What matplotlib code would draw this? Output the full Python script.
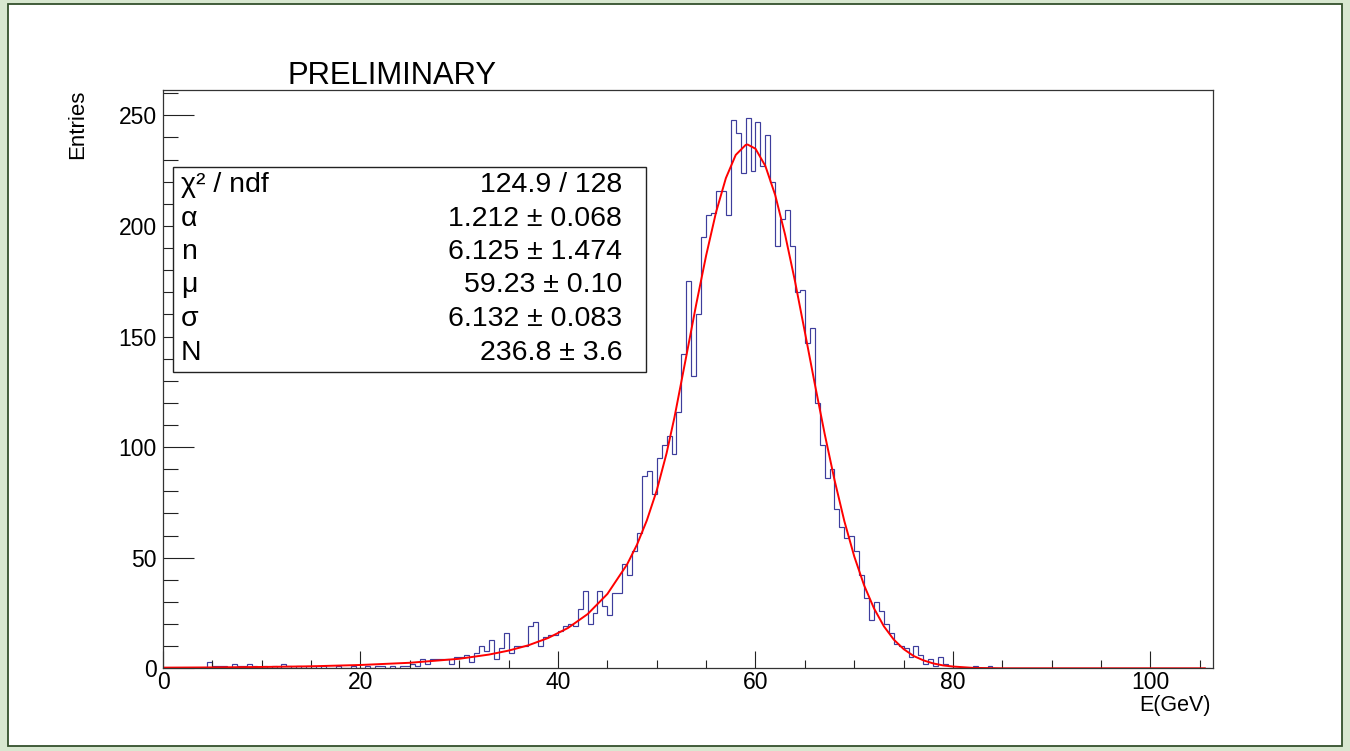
import matplotlib
matplotlib.use('Agg')
import matplotlib.pyplot as plt
import numpy as np
from matplotlib.patches import Rectangle
from matplotlib.ticker import MultipleLocator

plt.rcParams['font.family'] = ['Liberation Sans', 'DejaVu Sans']

# ---------------- data ----------------
bin_width = 0.5
hist_lo, hist_hi = 0.0, 106.0
first_filled_bin = 4.5          # lower edge of first listed bin
counts = [3, 1, 1, 1, 0, 2, 1, 1, 2, 1,
          0, 1, 0, 1, 0, 2, 1, 0, 1, 0,
          1, 1, 0, 1, 0, 0, 1, 0, 0, 1,
          0, 0, 1, 0, 1, 1, 0, 1, 0, 1,
          1, 2, 1, 4, 2, 4, 4, 4, 4, 2,
          5, 5, 6, 3, 7, 10, 8, 13, 4, 9,
          16, 7, 10, 10, 10, 19, 21, 10, 14, 15,
          15, 17, 19, 20, 19, 27, 35, 20, 25, 35,
          28, 24, 34, 34, 47, 42, 53, 61, 87, 89,
          79, 95, 101, 105, 97, 116, 142, 175, 132, 160,
          195, 205, 206, 216, 216, 205, 248, 242, 224, 249,
          225, 247, 227, 241, 220, 191, 203, 207, 191, 170,
          171, 147, 154, 120, 101, 86, 90, 72, 64, 59,
          60, 53, 42, 32, 22, 30, 26, 20, 16, 11,
          10, 9, 5, 10, 6, 2, 4, 1, 5, 2,
          1, 0, 0, 0, 0, 1, 0, 0, 1]

fit_x = [0, 5, 10, 15, 20, 25, 30, 33, 35, 37, 39, 41, 43, 45, 47, 48, 49, 50,
         51, 51.8, 52, 53, 54, 55, 56, 57, 58, 59, 59.2, 60, 61, 62, 63, 64, 65,
         66, 67, 68, 69, 70, 71, 72, 73, 74, 75, 76, 77, 78, 79, 80, 82, 85, 90,
         105.5]
fit_y = [0.3, 0.4, 0.6, 0.9, 1.5, 2.5, 4.3, 6.2, 8.0, 10.4, 13.7, 18.2, 24.5,
         33.6, 47.0, 55.9, 66.9, 80.4, 97.3, 113.6, 118.2, 141.3, 164.6, 186.6,
         206.1, 221.6, 232.1, 236.6, 236.8, 234.9, 227.1, 213.9, 196.0, 175.0,
         152.0, 128.7, 106.1, 85.2, 66.5, 50.6, 37.5, 27.1, 19.0, 13.0, 8.7,
         5.6, 3.6, 2.2, 1.3, 0.8, 0.2, 0.0, 0.0, 0.0]

stat_names = ["\u03c7\u00b2 / ndf", "\u03b1", "n", "\u03bc", "\u03c3", "N"]
stat_values = ["124.9 / 128", "1.212 \u00b1 0.068", "6.125 \u00b1 1.474",
               "59.23 \u00b1 0.10", "6.132 \u00b1 0.083", "236.8 \u00b1 3.6"]

x_major = [0, 20, 40, 60, 80, 100]
y_major = [0, 50, 100, 150, 200, 250]

# ---------------- build histogram ----------------
edges = np.arange(hist_lo, hist_hi + bin_width / 2, bin_width)
values = np.zeros(len(edges) - 1)
i0 = int(round((first_filled_bin - hist_lo) / bin_width))
values[i0:i0 + len(counts)] = counts

# ---------------- figure ----------------
W, H = 1350, 751
fig = plt.figure(figsize=(W / 100, H / 100), dpi=100)
fig.patch.set_facecolor('#d8e7d0')
fig.add_artist(Rectangle((8 / W, 5 / H), (W - 16) / W, (H - 9) / H,
                         transform=fig.transFigure, facecolor='white',
                         edgecolor='#34502c', linewidth=1.3, zorder=-5))

L, R, T, B = 163, 1212.7, 90, 668.3
ax = fig.add_axes([L / W, 1 - B / H, (R - L) / W, (B - T) / H])
ax.set_zorder(1)
ax.set_facecolor('white')

ax.stairs(values, edges, color='#3d3d9c', linewidth=0.85)
ax.plot(fit_x, fit_y, color='#ff0000', linewidth=1.4)

ax.set_xlim(0, 106.3)
ax.set_ylim(0, 1.05 * max(counts))

ax.set_xticks(x_major)
ax.set_yticks(y_major)
ax.xaxis.set_minor_locator(MultipleLocator(5))
ax.yaxis.set_minor_locator(MultipleLocator(10))
ax.tick_params(axis='x', which='major', direction='in', length=12.2, width=0.8,
               labelsize=16.5, pad=2, top=False, color='#222222')
ax.tick_params(axis='x', which='minor', direction='in', length=6.1, width=0.8,
               top=False, color='#222222')
ax.tick_params(axis='y', which='major', direction='in', length=22.3, width=0.8,
               labelsize=16.5, pad=4.5, right=False, color='#222222')
ax.tick_params(axis='y', which='minor', direction='in', length=10.8, width=0.8,
               right=False, color='#222222')
for s in ax.spines.values():
    s.set_linewidth(0.9)
    s.set_color('#333333')

# titles
fig.text(78 / W, 1 - 90 / H, "Entries", rotation=90, ha='center', va='top',
         fontsize=16, zorder=3)
fig.text(1211 / W, 1 - 711 / H, "E(GeV)", ha='right', va='baseline',
         fontsize=15.5, zorder=3)
fig.text(288 / W, 1 - 76.5 / H, "PRELIMINARY", ha='left', va='center',
         fontsize=22.3, zorder=3)

# stats box
bx0, bx1, by0, by1 = 173, 646, 167, 372
fig.add_artist(Rectangle((bx0 / W, 1 - by1 / H), (bx1 - bx0) / W, (by1 - by0) / H,
                         transform=fig.transFigure, facecolor='white',
                         edgecolor='#222222', linewidth=1.0, zorder=3))
row_y = [185, 218.5, 252, 285.5, 319, 352.5]
for name, val, yy in zip(stat_names, stat_values, row_y):
    fig.text(181 / W, 1 - yy / H, name, ha='left', va='center', fontsize=20.5,
             zorder=4)
    fig.text(622 / W, 1 - yy / H, val, ha='right', va='center', fontsize=20.5,
             zorder=4)

fig.savefig('out.png', dpi=100, facecolor=fig.get_facecolor())
